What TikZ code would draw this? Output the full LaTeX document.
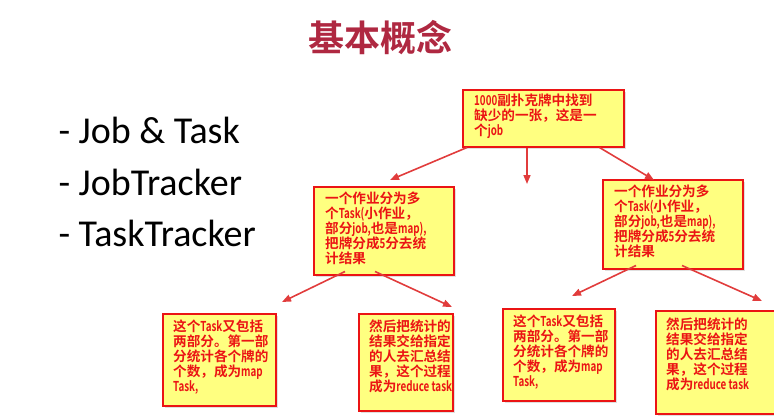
\documentclass[tikz,border=0pt]{standalone}
\usepackage{fontspec}
\setmainfont{Carlito}
\newfontfamily\cjk{Noto Sans CJK SC}[BoldFont={Noto Sans CJK SC Bold}]
\usetikzlibrary{arrows.meta,shadows}
\definecolor{boxfill}{RGB}{255,255,128}
\definecolor{boxred}{RGB}{235,20,20}
\definecolor{titlered}{RGB}{175,40,65}
\definecolor{arr}{RGB}{225,60,60}
\newcommand{\nw}[1]{\scalebox{0.72}[1]{#1}}
\tikzset{
 note/.style={draw=boxred,line width=1.5pt,fill=boxfill,anchor=north west,inner sep=0pt,drop shadow={shadow xshift=2pt,shadow yshift=-2pt,fill=black!25}},
 txt/.style={text=boxred,font=\cjk\bfseries\fontsize{13.6}{14.8}\selectfont,align=left,anchor=north west,inner sep=0pt},
 arrow/.style={draw=arr,line width=1.6pt,-{Triangle[length=9pt,width=7pt]}},
 bul/.style={font=\fontsize{38}{42}\selectfont,anchor=west}
}
\begin{document}
\begin{tikzpicture}[x=1pt,y=-1pt]
\useasboundingbox (0,0) rectangle (774,418);
\node[font=\cjk\bfseries\fontsize{36}{40}\selectfont,text=titlered] (title) at (380,38) {基本概念};
\node[bul] (b1) at (55,130) {- Job \& Task};
\node[bul] (b2) at (55,182) {- JobTracker};
\node[bul] (b3) at (55,233) {- TaskTracker};
\node[note,minimum width=161pt,minimum height=57pt] (top) at (462,89) {};
\node[txt] (ttop) at (474,94) {\nw{1000}副扑克牌中找到\\缺少的一张，这是一\\个\nw{job}};
\node[note,minimum width=140pt,minimum height=88pt] (ml) at (313,186) {};
\node[txt] (tml) at (325,192) {一个作业分为多\\个\nw{Task(}小作业，\\部分\nw{job,}也是\nw{map),}\\把牌分成\nw{5}分去统\\计结果};
\node[note,minimum width=140pt,minimum height=89pt] (mr) at (602,179) {};
\node[txt] (tmr) at (614,185) {一个作业分为多\\个\nw{Task(}小作业，\\部分\nw{job,}也是\nw{map),}\\把牌分成\nw{5}分去统\\计结果};
\node[note,minimum width=113pt,minimum height=92pt] (n1) at (162,313) {};
\node[txt] (tn1) at (173,320) {这个\nw{Task}又包括\\两部分。第一部\\分统计各个牌的\\个数，成为\nw{map}\\\nw{Task,}};
\node[note,minimum width=94pt,minimum height=97pt] (n2) at (358,313) {};
\node[txt] (tn2) at (369,320) {然后把统计的\\结果交给指定\\的人去汇总结\\果，这个过程\\成为\nw{reduce task}};
\node[note,minimum width=112pt,minimum height=92pt] (n3) at (502,308) {};
\node[txt] (tn3) at (513,315) {这个\nw{Task}又包括\\两部分。第一部\\分统计各个牌的\\个数，成为\nw{map}\\\nw{Task,}};
\node[note,minimum width=119pt,minimum height=103pt] (n4) at (655,310) {};
\node[txt] (tn4) at (666,318) {然后把统计的\\结果交给指定\\的人去汇总结\\果，这个过程\\成为\nw{reduce task}};
\coordinate (t1) at (390,180); \coordinate (t2) at (527,184); \coordinate (t3) at (654,180);
\coordinate (l1) at (282,302); \coordinate (l2) at (452,307);
\coordinate (r1) at (572,296); \coordinate (r2) at (762,301);
\draw[arrow] ([xshift=5pt]top.south west) -- (t1);
\draw[arrow] ([xshift=65pt]top.south west) -- (t2);
\draw[arrow] ([xshift=-25pt]top.south east) -- (t3);
\draw[arrow] ([xshift=32pt,yshift=4pt]ml.south west) -- (l1);
\draw[arrow] ([xshift=62pt,yshift=4pt]ml.south west) -- (l2);
\draw[arrow] ([xshift=34pt,yshift=4pt]mr.south west) -- (r1);
\draw[arrow] ([xshift=80pt,yshift=4pt]mr.south west) -- (r2);
\end{tikzpicture}
\end{document}
